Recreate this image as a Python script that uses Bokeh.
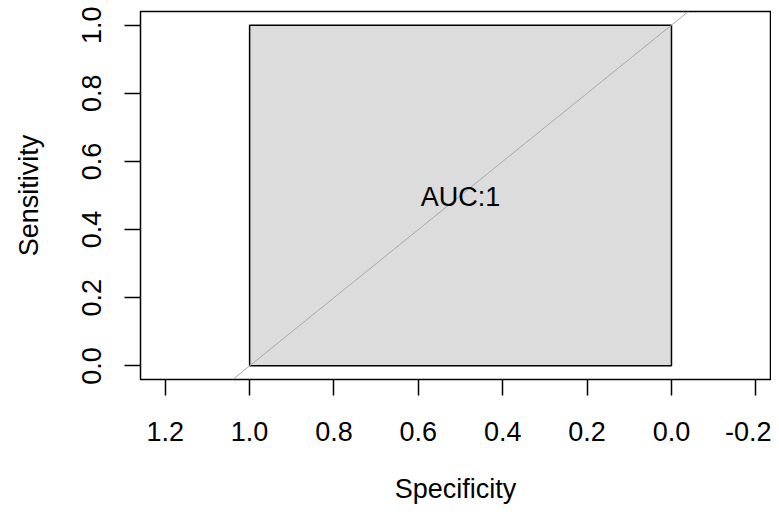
from bokeh.plotting import figure
from bokeh.models import Range1d, FixedTicker, Slope, Label
from bokeh.embed import file_html
from bokeh.resources import INLINE

# ROC curve (specificity reversed on x), closed to form the AUC polygon
specificity = [1.0, 1.0, 0.0, 0.0]
sensitivity = [0.0, 1.0, 1.0, 0.0]
auc_value = 1

x_ticks = [1.2, 1.0, 0.8, 0.6, 0.4, 0.2, 0.0, -0.2]
x_tick_labels = ["1.2", "1.0", "0.8", "0.6", "0.4", "0.2", "0.0", "-0.2"]
y_ticks = [0.0, 0.2, 0.4, 0.6, 0.8, 1.0]
y_tick_labels = ["0.0", "0.2", "0.4", "0.6", "0.8", "1.0"]

FONT = "Liberation Sans"
FS = "27px"

p = figure(width=771, height=508, output_backend="svg", toolbar_location=None,
           x_range=Range1d(1.2586, -0.2347), y_range=Range1d(-0.04, 1.04),
           min_border_left=140, min_border_right=1, min_border_top=11, min_border_bottom=129)
p.background_fill_color = "white"
p.border_fill_color = "white"
p.outline_line_color = "black"
p.outline_line_width = 1.5
p.xgrid.visible = False
p.ygrid.visible = False

for ax, ticks, labels in ((p.xaxis[0], x_ticks, x_tick_labels), (p.yaxis[0], y_ticks, y_tick_labels)):
    ax.ticker = FixedTicker(ticks=ticks)
    ax.major_label_overrides = {t: l for t, l in zip(ticks, labels)}
    ax.minor_tick_line_color = None
    ax.axis_line_color = None
    ax.major_tick_line_color = "black"
    ax.major_tick_line_width = 1.5
    ax.major_tick_out = 16
    ax.major_tick_in = 0
    ax.major_label_text_font = FONT
    ax.major_label_text_font_size = FS
    ax.major_label_text_color = "black"
    ax.axis_label_text_font = FONT
    ax.axis_label_text_font_size = FS
    ax.axis_label_text_font_style = "normal"
    ax.axis_label_text_color = "black"

p.xaxis.axis_label = "Specificity"
p.yaxis.axis_label = "Sensitivity"
p.yaxis.major_label_orientation = "vertical"
p.xaxis.major_label_standoff = 26
p.xaxis.axis_label_standoff = 30
p.yaxis.major_label_standoff = 23
p.yaxis.axis_label_standoff = 36

p.patch(specificity, sensitivity, fill_color="#DCDCDC", line_color="black", line_width=1.5)
p.add_layout(Slope(gradient=-1, y_intercept=1, line_color="#A8A8A8", line_width=1))
p.add_layout(Label(x=0.5, y=0.495, text=f"AUC:{auc_value}", text_align="center",
                   text_baseline="middle", text_font=FONT, text_font_size=FS, text_color="black"))

open("out.html", "w").write(file_html(p, INLINE))
